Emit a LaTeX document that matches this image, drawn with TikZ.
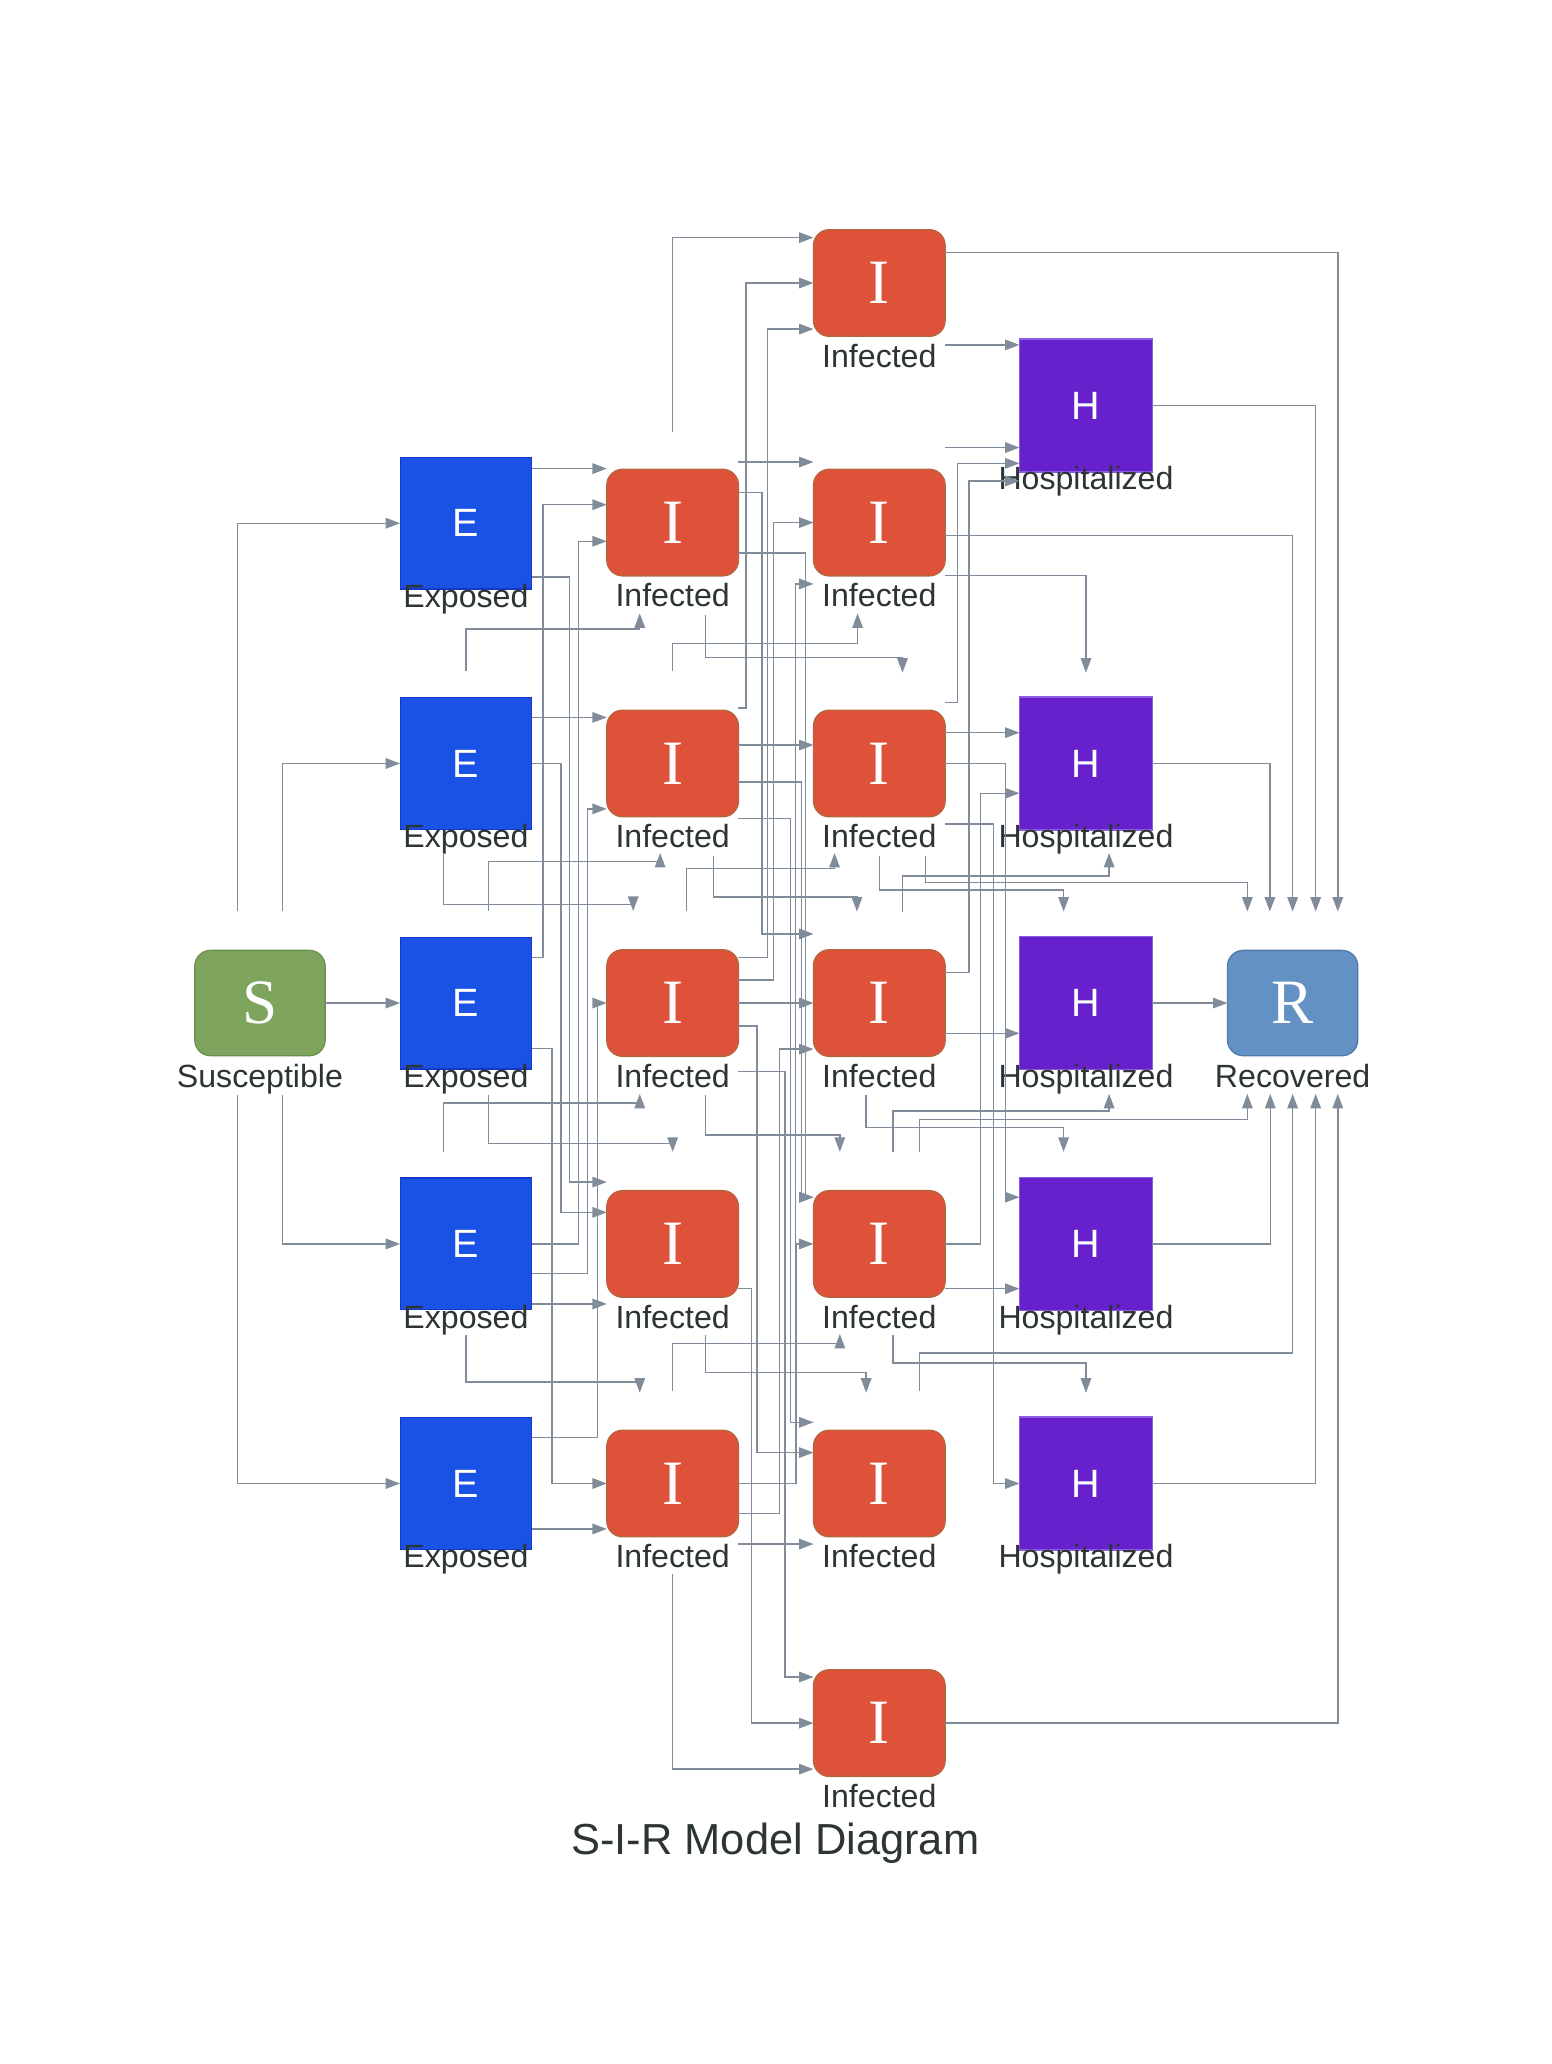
\documentclass[tikz,border=0pt]{standalone}
\usepackage{fontspec}
\setmainfont{Liberation Sans}
\newfontfamily\letterserif{Liberation Serif}
\usetikzlibrary{arrows.meta,calc}

\definecolor{edgegray}{HTML}{808C99}
\definecolor{sgreen}{HTML}{7EA45E}
\definecolor{sgreenline}{HTML}{6A8F4E}
\definecolor{eblue}{HTML}{1A52E6}
\definecolor{ebline}{HTML}{1638C8}
\definecolor{ired}{HTML}{DE523A}
\definecolor{iredline}{HTML}{B5653F}
\definecolor{hpurple}{HTML}{6721CC}
\definecolor{hline}{HTML}{8A5CE0}
\definecolor{rblue}{HTML}{6491C3}
\definecolor{rline}{HTML}{5179A8}
\definecolor{labeltext}{HTML}{2D3436}

% a compartment box with its caption underneath
\newcommand{\compartment}[6]{%
  \node[#2] (#1) at (#3,#4) {#5};
  \node[lbl] (#1-t) at (#3,#4+64) {#6};}

\begin{document}
\begin{tikzpicture}[x=0.5pt,y=-0.5pt,
  edge/.style={draw=edgegray, line width=0.55pt, -{Triangle[length=5.5pt,width=4pt]}},
  boxbase/.style={inner sep=0pt, outer sep=0pt, line width=0.5pt, text=white},
  sans/.style={font=\fontsize{15}{15}\selectfont},
  serifl/.style={font=\letterserif\fontsize{24}{24}\selectfont},
  sbox/.style={boxbase, serifl, rounded corners=6pt, minimum width=49.5pt, minimum height=40pt, fill=sgreen, draw=sgreenline},
  ebox/.style={boxbase, sans, minimum width=50pt, minimum height=50pt, fill=eblue, draw=ebline},
  ibox/.style={boxbase, serifl, rounded corners=6pt, minimum width=50pt, minimum height=40.5pt, fill=ired, draw=iredline},
  hbox/.style={boxbase, sans, minimum width=50.5pt, minimum height=50.5pt, fill=hpurple, draw=hline},
  rbox/.style={boxbase, serifl, rounded corners=6pt, minimum width=49.5pt, minimum height=40pt, fill=rblue, draw=rline},
  lbl/.style={anchor=base, inner sep=0pt, text=labeltext, font=\fontsize{12.2}{14}\selectfont},
]
\fill[white] (0,0) rectangle (1179,1568);
\useasboundingbox (0,0) rectangle (1179,1568);

% ---------- compartments ----------
\compartment{s}{sbox}{197.5}{762}{S}{Susceptible}
\compartment{e1}{ebox}{354}{397.5}{E}{Exposed}
\compartment{e2}{ebox}{354}{580}{E}{Exposed}
\compartment{e3}{ebox}{354}{762}{E}{Exposed}
\compartment{e4}{ebox}{354}{945}{E}{Exposed}
\compartment{e5}{ebox}{354}{1127}{E}{Exposed}
\compartment{a1}{ibox}{511}{397}{I}{Infected}
\compartment{a2}{ibox}{511}{580}{I}{Infected}
\compartment{a3}{ibox}{511}{762}{I}{Infected}
\compartment{a4}{ibox}{511}{945}{I}{Infected}
\compartment{a5}{ibox}{511}{1127}{I}{Infected}
\compartment{b0}{ibox}{668}{215}{I}{Infected}
\compartment{b1}{ibox}{668}{397}{I}{Infected}
\compartment{b2}{ibox}{668}{580}{I}{Infected}
\compartment{b3}{ibox}{668}{762}{I}{Infected}
\compartment{b4}{ibox}{668}{945}{I}{Infected}
\compartment{b5}{ibox}{668}{1127}{I}{Infected}
\compartment{b6}{ibox}{668}{1309}{I}{Infected}
\compartment{h0}{hbox}{825}{308}{H}{Hospitalized}
\compartment{h2}{hbox}{825}{580}{H}{Hospitalized}
\compartment{h3}{hbox}{825}{762}{H}{Hospitalized}
\compartment{h4}{hbox}{825}{945}{H}{Hospitalized}
\compartment{h5}{hbox}{825}{1127}{H}{Hospitalized}
\compartment{r}{rbox}{982}{762}{R}{Recovered}

\node[anchor=base, inner sep=0pt, text=labeltext, font=\fontsize{16.5}{18}\selectfont] (title) at (589,1409) {S-I-R Model Diagram};

% ---------- S to E ----------
\draw[edge] ($(s)+(-17,-70)$) |- (e1.west);
\draw[edge] ($(s)+(17,-70)$) |- (e2.west);
\draw[edge] (s.east) -- (e3.west);
\draw[edge] ($(s)+(17,70)$) |- (e4.west);
\draw[edge] ($(s)+(-17,70)$) |- (e5.west);

% ---------- E to first I column ----------
\draw[edge] ($(e1.east)+(0,-41.5)$) -- ($(a1.west)+(0,-41)$);
\draw[edge] ($(e1.east)+(0,41)$) -- ++(28.5,0) |- ($(a4.west)+(0,-47)$);
\draw[edge] ($(e2.east)+(0,-35)$) -- ($(a2.west)+(0,-35)$);
\draw[edge] (e2.east) -- ++(22.3,0) |- ($(a4.west)+(0,-24)$);
\draw[edge] ($(e3.east)+(0,-34.5)$) -- ++(8.4,0) |- ($(a1.west)+(0,-13.6)$);
\draw[edge] ($(e3.east)+(0,34.4)$) -- ++(15.3,0) |- (a5.west);
\draw[edge] (e4.east) -- ++(35.5,0) |- ($(a1.west)+(0,14.2)$);
\draw[edge] ($(e4.east)+(0,22.3)$) -- ++(42.5,0) |- ($(a2.west)+(0,34.5)$);
\draw[edge] ($(e4.east)+(0,45.6)$) -- ($(a4.west)+(0,45.6)$);
\draw[edge] ($(e5.east)+(0,-35)$) -- ++(49.8,0) |- (a3.west);
\draw[edge] ($(e5.east)+(0,34.5)$) -- ($(a5.west)+(0,34.5)$);

\draw[edge] ($(e2)+(0,-70)$) -- ($(e2)+(0,-102)$) -| ($(a1)+(-25,69)$);
\draw[edge] ($(e2)+(-17,68)$) -- ++(0,39) -| ($(a3)+(-30,-70)$);
\draw[edge] ($(e3)+(17,-70)$) -- ++(0,-37.4) -| ($(a2)+(-9.5,68)$);
\draw[edge] ($(e4)+(-17,-70)$) -- ++(0,-37) -| ($(a3)+(-25,69)$);
\draw[edge] ($(e3)+(17,70)$) -- ++(0,36.5) -| ($(a4)+(0,-70)$);
\draw[edge] ($(e4)+(0,69)$) -- ++(0,36) -| ($(a5)+(-25,-69)$);

% ---------- first I column to second I column ----------
\draw[edge] ($(a1)+(0,-69)$) |- ($(b0.west)+(0,-34.5)$);
\draw[edge] ($(a1.east)+(0,-46)$) -- ($(b1.west)+(0,-46)$);
\draw[edge] ($(a1.east)+(0,-23)$) -- ++(18,0) |- ($(b3.west)+(0,-52.5)$);
\draw[edge] ($(a1.east)+(0,23)$) -- ++(51,0) |- ($(b4.west)+(0,-35.5)$);
\draw[edge] ($(a1)+(25,70)$) -- ++(0,32.6) -| ($(b2)+(17.6,-69)$);

\draw[edge] ($(a2)+(0,-70)$) -- ++(0,-21.3) -| ($(b1)+(-16.5,69)$);
\draw[edge] ($(a2.east)+(0,-42)$) -- ++(5.6,0) |- (b0.west);
\draw[edge] ($(a2.east)+(0,-14)$) -- ($(b2.west)+(0,-14)$);
\draw[edge] ($(a2.east)+(0,14)$) -- ++(48,0) |- ($(b4.west)+(0,-35.5)$);
\draw[edge] ($(a2.east)+(0,41.6)$) -- ++(39.5,0) |- ($(b5.west)+(0,-46.5)$);
\draw[edge] ($(a2)+(31,70)$) -- ++(0,31.6) -| ($(b3)+(-17,-69.5)$);

\draw[edge] ($(a3)+(10.6,-70)$) -- ++(0,-32.4) -| ($(b2)+(-34,68)$);
\draw[edge] ($(a3.east)+(0,-34.5)$) -- ++(22,0) |- ($(b0.west)+(0,35)$);
\draw[edge] ($(a3.east)+(0,-17.5)$) -- ++(26.6,0) |- (b1.west);
\draw[edge] (a3.east) -- (b3.west);
\draw[edge] ($(a3.east)+(0,17.4)$) -- ++(14,0) |- ($(b5.west)+(0,-23.5)$);
\draw[edge] ($(a3.east)+(0,52)$) -- ++(35.5,0) |- ($(b6.west)+(0,-35)$);
\draw[edge] ($(a3)+(25,70)$) -- ++(0,30.2) -| ($(b4)+(-30,-70)$);

\draw[edge] ($(a4.east)+(0,33.7)$) -- ++(10,0) |- (b6.west);
\draw[edge] ($(a4)+(25,69)$) -- ++(0,28.8) -| ($(b5)+(-10,-69)$);

\draw[edge] ($(a5)+(0,-70)$) -- ++(0,-36.2) -| ($(b4)+(-30,68.4)$);
\draw[edge] (a5.east) -- ++(44,0) |- (b4.west);
\draw[edge] (a5.east) -- ++(43.4,0) |- ($(b1.west)+(0,46.6)$);
\draw[edge] ($(a5.east)+(0,22.6)$) -- ++(31,0) |- ($(b3.west)+(0,35)$);
\draw[edge] ($(a5.east)+(0,46)$) -- ($(b5.west)+(0,46)$);
\draw[edge] ($(a5)+(0,69)$) |- ($(b6.west)+(0,35)$);

% ---------- second I column to H and R ----------
\draw[edge] ($(b0.east)+(0,-23)$) -| ($(r)+(34.3,-69.5)$);
\draw[edge] ($(b0.east)+(0,47)$) -- ($(h0.west)+(0,-46)$);
\draw[edge] ($(b1.east)+(0,-57)$) -- ($(h0.west)+(0,32)$);
\draw[edge] ($(b1.east)+(0,10)$) -| ($(r)+(0,-69.5)$);
\draw[edge] ($(b1.east)+(0,40)$) -| ($(h2)+(0,-69)$);
\draw[edge] ($(b2.east)+(0,-46.5)$) -- ++(9.3,0) |- ($(h0.west)+(0,44)$);
\draw[edge] ($(b2.east)+(0,-23.4)$) -- ($(h2.west)+(0,-23.4)$);
\draw[edge] (b2.east) -- ++(45.7,0) |- ($(h4.west)+(0,-35.5)$);
\draw[edge] ($(b2.east)+(0,46)$) -- ++(36.8,0) |- (h5.west);
\draw[edge] ($(b2)+(0.2,70)$) -- ++(0,26) -| ($(h3)+(-17,-69.5)$);
\draw[edge] ($(b2)+(35,70)$) -- ++(0,20.5) -| ($(r)+(-34.4,-69.5)$);
\draw[edge] ($(b3)+(17.6,-69.5)$) -- ++(0,-27) -| ($(h2)+(17.6,68)$);
\draw[edge] ($(b3.east)+(0,-23.4)$) -- ++(18.2,0) |- ($(h0.west)+(0,57.4)$);
\draw[edge] ($(b3.east)+(0,23)$) -- ($(h3.west)+(0,23)$);
\draw[edge] ($(b3)+(-10,70)$) -- ++(0,24.6) -| ($(h4)+(-17,-70)$);
\draw[edge] ($(b4)+(10.3,-70)$) -- ++(0,-31) -| ($(h3)+(17.6,69)$);
\draw[edge] ($(b4)+(30.4,-70)$) -- ++(0,-24.6) -| ($(r)+(-34.4,69)$);
\draw[edge] (b4.east) -- ++(27,0) |- ($(h2.west)+(0,22.6)$);
\draw[edge] ($(b4.east)+(0,34)$) -- ($(h4.west)+(0,34)$);
\draw[edge] ($(b4)+(10.3,69)$) -- ++(0,21.6) -| ($(h5)+(0,-69)$);
\draw[edge] ($(b5)+(30.4,-70)$) -- ++(0,-29) -| ($(r)+(0,69)$);
\draw[edge] (b6.east) -| ($(r)+(34.3,69)$);

% ---------- H to R ----------
\draw[edge] (h0.east) -| ($(r)+(17.5,-69.5)$);
\draw[edge] (h2.east) -| ($(r)+(-17.3,-69.5)$);
\draw[edge] (h3.east) -- (r.west);
\draw[edge] (h4.east) -| ($(r)+(-17,69)$);
\draw[edge] (h5.east) -| ($(r)+(17.5,69)$);
\end{tikzpicture}
\end{document}
